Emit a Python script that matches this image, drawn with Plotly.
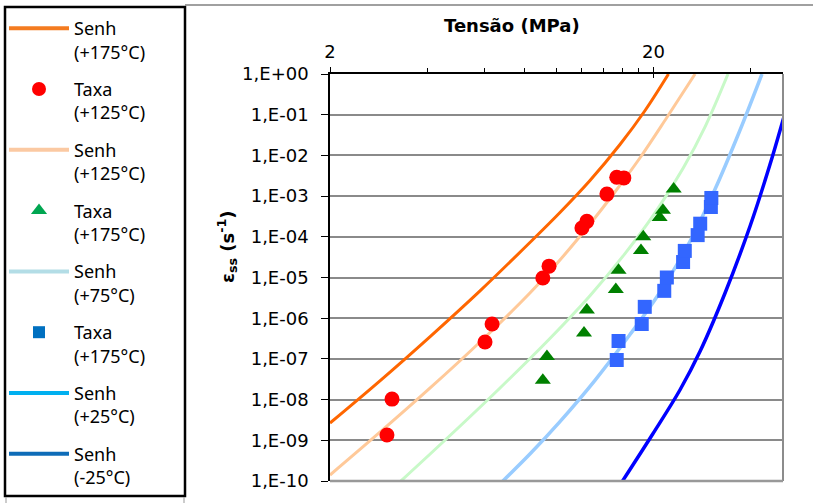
import numpy as np
import plotly.graph_objects as go

# ---------------- data ----------------
# Sinh-law fitted curves (stress in MPa, strain rate in 1/s)
senh_175_x = [2.00, 2.86, 4.08, 5.82, 8.30, 10.28, 12.73, 15.76, 18.82, 22.26]
senh_175_y = [2.66e-9, 2.94e-8, 3.55e-7, 4.71e-6, 7.24e-5, 3.95e-4, 2.42e-3, 1.85e-2, 0.125, 1.0]

senh_125_x = [2.00, 2.86, 4.08, 5.82, 8.30, 10.28, 12.73, 15.2, 18.16, 22.0, 26.9]
senh_125_y = [1.40e-10, 1.60e-9, 1.93e-8, 2.60e-7, 4.16e-6, 2.69e-5, 2.06e-4, 1.26e-3, 8.63e-3, 8.53e-2, 1.0]

senh_75_x = [3.29, 4.70, 6.71, 9.57, 12.73, 16.33, 20.2, 24.7, 28.9, 34.0]
senh_75_y = [9.5e-11, 1.31e-9, 1.93e-8, 3.17e-7, 3.57e-6, 3.85e-5, 3.80e-4, 4.80e-3, 5.10e-2, 1.0]

senh_25_x = [6.80, 8.30, 10.28, 13.19, 16.9, 20.9, 25.9, 31.0, 37.0, 43.3]
senh_25_y = [9.5e-11, 4.6e-10, 2.88e-9, 2.98e-8, 3.91e-7, 4.21e-6, 7.54e-5, 1.47e-3, 4.09e-2, 1.0]

senh_m25_x = [15.98, 19.9, 24.15, 27.9, 33.3, 39.8, 45.8, 52.8]
senh_m25_y = [9.5e-11, 1.43e-9, 1.72e-8, 1.56e-7, 4.16e-6, 1.84e-4, 5.81e-3, 0.288]

# Experimental rates
taxa_red_x = [3.00, 3.11, 6.03, 6.34, 9.10, 9.51, 12.02, 12.45, 14.36, 15.4, 16.2]
taxa_red_y = [1.35e-9, 1.03e-8, 2.6e-7, 7.2e-7, 9.7e-6, 1.9e-5, 1.65e-4, 2.4e-4, 1.12e-3, 2.9e-3, 2.8e-3]

taxa_green_x = [9.10, 9.37, 12.2, 12.45, 15.3, 15.6, 18.3, 18.6, 20.9, 21.4, 23.1]
taxa_green_y = [3.0e-8, 1.15e-7, 4.3e-7, 1.6e-6, 5.1e-6, 1.5e-5, 4.6e-5, 1.0e-4, 3.0e-4, 4.5e-4, 1.5e-3]

taxa_blue_x = [15.4, 15.6, 18.4, 18.8, 21.6, 22.0, 24.7, 25.0, 27.4, 27.9, 30.1, 30.2]
taxa_blue_y = [9.4e-8, 2.75e-7, 7.2e-7, 1.9e-6, 4.7e-6, 1.0e-5, 2.4e-5, 4.5e-5, 1.1e-4, 2.1e-4, 5.4e-4, 9.0e-4]

x_tick_vals = [2, 20]
x_tick_text = ["2", "20"]
x_minor_vals = [4, 6, 8, 10, 12, 14, 16, 18, 40]
y_tick_vals = [1e0, 1e-1, 1e-2, 1e-3, 1e-4, 1e-5, 1e-6, 1e-7, 1e-8, 1e-9, 1e-10]
y_tick_text = ["1,E+00", "1,E-01", "1,E-02", "1,E-03", "1,E-04", "1,E-05",
               "1,E-06", "1,E-07", "1,E-08", "1,E-09", "1,E-10"]

legend_names = ["Senh<br>(+175°C)", "Taxa<br>(+125°C)", "Senh<br>(+125°C)", "Taxa<br>(+175°C)",
                "Senh<br>(+75°C)", "Taxa<br>(+175°C)", "Senh<br>(+25°C)", "Senh<br>(-25°C)"]

# ---------------- figure ----------------
W, H = 813, 503
ML, MR, MT, MB = 330, 30, 74, 22
PW, PH = W - ML - MR, H - MT - MB


def px(xp):
    return (xp - ML) / PW


def py(yp):
    return (H - MB - yp) / PH


fig = go.Figure()

curves = [
    (senh_175_x, senh_175_y, "#ff6600", 3),
    (senh_125_x, senh_125_y, "#ffc999", 3),
    (senh_75_x, senh_75_y, "#c8f9c8", 3),
    (senh_25_x, senh_25_y, "#99ccff", 3.5),
    (senh_m25_x, senh_m25_y, "#0000ff", 3.5),
]
for cx, cy, col, lw in curves:
    fig.add_trace(go.Scatter(x=cx, y=cy, mode="lines", showlegend=False,
                             line=dict(color=col, width=lw, shape="spline", smoothing=1.0),
                             hoverinfo="skip"))

fig.add_trace(go.Scatter(x=taxa_red_x, y=taxa_red_y, mode="markers", showlegend=False,
                         marker=dict(symbol="circle", size=15, color="#ff0000")))
fig.add_trace(go.Scatter(x=taxa_green_x, y=taxa_green_y, mode="markers", showlegend=False,
                         marker=dict(symbol="triangle-up", size=14, color="#008000")))
fig.add_trace(go.Scatter(x=taxa_blue_x, y=taxa_blue_y, mode="markers", showlegend=False,
                         marker=dict(symbol="square", size=14, color="#3366ff")))

# legend entries (styled as in the reference's legend box)
leg_styles = [
    dict(mode="lines", line=dict(color="#f47b20", width=4)),
    dict(mode="markers", marker=dict(symbol="circle", size=14, color="#ff0000")),
    dict(mode="lines", line=dict(color="#fbc9a2", width=4)),
    dict(mode="markers", marker=dict(symbol="triangle-up", size=14, color="#00a651")),
    dict(mode="lines", line=dict(color="#b3dde6", width=4)),
    dict(mode="markers", marker=dict(symbol="square", size=12, color="#0070c0")),
    dict(mode="lines", line=dict(color="#00b0f0", width=4)),
    dict(mode="lines", line=dict(color="#0e6cb8", width=4)),
]
for i, (nm, st) in enumerate(zip(legend_names, leg_styles)):
    fig.add_trace(go.Scatter(x=[None], y=[None], name=nm, legendgroup=f"g{i}",
                             xaxis="x2", showlegend=True, **st))

xr = [np.log10(2), np.log10(50.3)]
fig.update_layout(
    width=W, height=H,
    margin=dict(l=ML, r=MR, t=MT, b=MB, autoexpand=False),
    paper_bgcolor="white", plot_bgcolor="white",
    font=dict(family="DejaVu Sans", size=18, color="black"),
    xaxis=dict(type="log", range=xr, side="top", tickmode="array",
               tickvals=x_tick_vals, ticktext=x_tick_text,
               ticks="outside", ticklen=5, tickwidth=1, tickcolor="black",
               minor=dict(tickmode="array", tickvals=x_minor_vals, ticks="outside",
                          ticklen=4, tickwidth=1, tickcolor="black", showgrid=False),
               showline=True, linecolor="black", linewidth=1.5,
               showgrid=False, zeroline=False, ticklabelstandoff=2,
               tickfont=dict(family="DejaVu Sans", size=18)),
    xaxis2=dict(type="log", range=xr, overlaying="x", side="top", tickmode="array",
                tickvals=x_tick_vals, ticks="inside", ticklen=4, tickcolor="black",
                showticklabels=False, showline=False, showgrid=False, zeroline=False),
    yaxis=dict(type="log", range=[-10, 0], tickmode="array",
               tickvals=y_tick_vals, ticktext=y_tick_text,
               ticks="outside", ticklen=7, tickwidth=1, tickcolor="black",
               showline=True, linecolor="black", linewidth=1.5,
               showgrid=True, gridcolor="#8a8a8a", gridwidth=1.5, zeroline=False,
               ticklabelstandoff=9,
               tickfont=dict(family="DejaVu Sans", size=18)),
    legend=dict(x=px(4), xanchor="left", y=py(10), yanchor="top", maxheight=500,
                bgcolor="rgba(0,0,0,0)", borderwidth=0,
                font=dict(family="Noto Sans", size=18, color="black"),
                traceorder="grouped", tracegroupgap=11, itemwidth=60, valign="top"),
    showlegend=True,
)

fig.add_annotation(text="<b>Tensão (MPa)</b>", xref="paper", yref="paper",
                   x=px(512), y=py(25), xanchor="center", yanchor="middle", showarrow=False,
                   font=dict(family="DejaVu Sans", size=18, color="black"))
fig.add_annotation(text="<b>ε<sub>ss</sub> (s<sup>-1</sup>)</b>", xref="paper", yref="paper",
                   x=px(227), y=py(247), xanchor="center", yanchor="middle",
                   showarrow=False, textangle=-90,
                   font=dict(family="DejaVu Sans", size=18, color="black"))

shapes = [
    # legend frame
    dict(type="rect", xref="paper", yref="paper", x0=px(5), x1=px(185), y0=py(496), y1=py(7),
         line=dict(color="black", width=2.5)),
    dict(type="line", xref="paper", yref="paper", x0=px(6), x1=px(6), y0=py(497), y1=py(503),
         line=dict(color="#999999", width=1)),
    dict(type="line", xref="paper", yref="paper", x0=px(184), x1=px(184), y0=py(497), y1=py(503),
         line=dict(color="#999999", width=1)),
    # outer top line
    dict(type="line", xref="paper", yref="paper", x0=px(185), x1=px(813), y0=py(5), y1=py(5),
         line=dict(color="#808080", width=1.5)),
    # plot right / bottom borders
    dict(type="line", xref="paper", yref="paper", x0=1, x1=1, y0=0, y1=1,
         line=dict(color="#8c8c8c", width=2)),
    dict(type="line", xref="paper", yref="paper", x0=0, x1=1, y0=0, y1=0,
         line=dict(color="#999999", width=2.5)),
]
fig.update_layout(shapes=shapes)

fig.write_html("out.html", config={"displayModeBar": False},
               post_script="document.body.style.margin='0';")
